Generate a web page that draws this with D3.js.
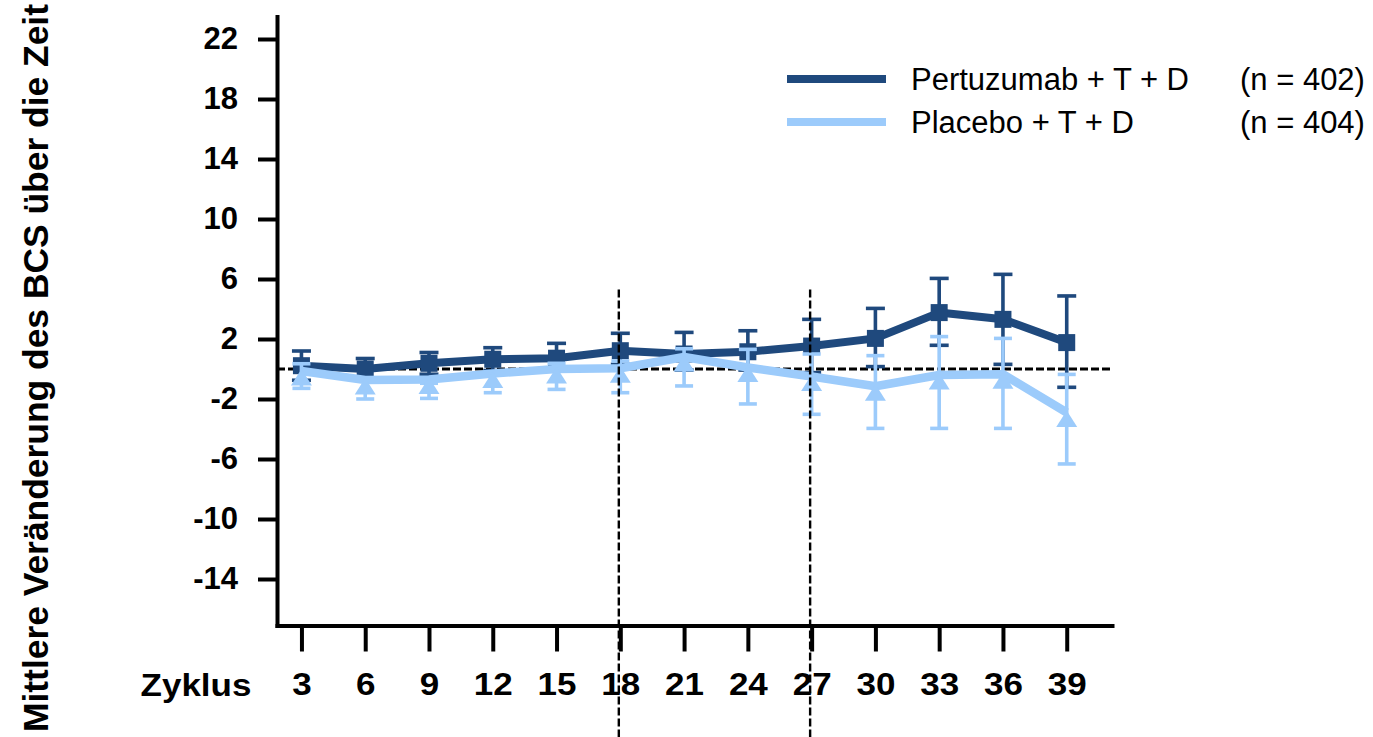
<!DOCTYPE html>
<html>
<head>
<meta charset="utf-8">
<script src="https://cdn.jsdelivr.net/npm/d3@7"></script>
<style>
  html, body { margin: 0; padding: 0; background: #fff; }
  svg { display: block; }
  text { font-family: "Liberation Sans", Arial, sans-serif; }
</style>
</head>
<body>
<div id="chart"></div>
<script>
// Treatment cycles on the x axis
const cycles = [3, 6, 9, 12, 15, 18, 21, 24, 27, 30, 33, 36, 39];

// Pertuzumab + T + D: mean change with lower / upper error limits
const pertuzumabMean  = [0.22, 0.0, 0.38, 0.65, 0.72, 1.22, 1.0, 1.15, 1.53, 2.04, 3.76, 3.31, 1.76];
const pertuzumabUpper = [1.2, 0.7, 1.1, 1.42, 1.71, 2.38, 2.44, 2.55, 3.31, 4.04, 6.04, 6.31, 4.87];
const pertuzumabLower = [-0.75, -0.75, -0.35, -0.1, -0.11, 0.31, -0.07, -0.07, -0.24, 0.16, 1.58, 0.31, -1.22];

// Placebo + T + D: mean change with lower / upper error limits
const placeboMean  = [-0.13, -0.73, -0.7, -0.3, 0.0, 0.05, 0.8, 0.1, -0.5, -1.15, -0.4, -0.35, -2.9];
const placeboUpper = [0.35, -0.65, -0.95, -0.3, 0.38, 0.53, 1.35, 1.31, 1.0, 0.89, 2.16, 2.04, -0.36];
const placeboLower = [-1.29, -2.0, -1.96, -1.58, -1.36, -1.58, -1.13, -2.33, -3.02, -3.96, -3.96, -3.96, -6.33];

// Axis ticks and labels
const yTicks = [22, 18, 14, 10, 6, 2, -2, -6, -10, -14];
const yDomain = [-17.1, 23.5];
const xDomain = [1.85, 41.13];
const phaseMarkers = [18, 27];
const phaseMarkerTop = 5.3;

const seriesNames = ["Pertuzumab + T + D", "Placebo + T + D"];
const seriesCounts = ["(n = 402)", "(n = 404)"];
const yTitle = "Mittlere Veränderung des BCS über die Zeit";
const xTitle = "Zyklus";

const DARK = "#1F497D";
const LIGHT = "#9CCBFB";
const FONT = "'Liberation Sans', Arial, sans-serif";

const W = 1373, H = 737;
const svg = d3.select("#chart").append("svg").attr("width", W).attr("height", H);

const x = d3.scaleLinear().domain(xDomain).range([277, 1112]);
const y = d3.scaleLinear().domain(yDomain).range([625.5, 16.5]);
const axisY = y(yDomain[0]);

// zero reference line
svg.append("line")
  .attr("x1", x(xDomain[0])).attr("x2", x(xDomain[1]))
  .attr("y1", y(0)).attr("y2", y(0))
  .attr("stroke", "#000").attr("stroke-width", 3)
  .attr("stroke-dasharray", "8,3");

// y axis
const gy = svg.append("g")
  .attr("transform", `translate(${x(xDomain[0])},0)`)
  .call(d3.axisLeft(y).tickValues(yTicks).tickFormat(d => String(d))
    .tickSize(19).tickSizeOuter(0).tickPadding(20));
gy.select(".domain").attr("stroke", "#000").attr("stroke-width", 4).attr("stroke-linecap", "square");
gy.selectAll(".tick line").attr("stroke", "#000").attr("stroke-width", 4);
gy.selectAll(".tick text")
  .attr("fill", "#000").attr("font-size", 31).attr("font-weight", "bold")
  .attr("font-family", FONT);

// x axis
const gx = svg.append("g")
  .attr("transform", `translate(0,${axisY})`)
  .call(d3.axisBottom(x).tickValues(cycles).tickFormat(d => String(d))
    .tickSize(26).tickSizeOuter(0));
gx.select(".domain").attr("stroke", "#000").attr("stroke-width", 4).attr("stroke-linecap", "square");
gx.selectAll(".tick line").attr("stroke", "#000").attr("stroke-width", 4);
gx.selectAll(".tick text")
  .attr("y", 70).attr("dy", 0)
  .attr("transform", "scale(1.13,1)")
  .attr("fill", "#000").attr("font-size", 31).attr("font-weight", "bold")
  .attr("font-family", FONT);

svg.append("text")
  .attr("transform", `translate(196,${axisY + 70}) scale(1.13,1)`)
  .attr("text-anchor", "middle")
  .attr("font-size", 31).attr("font-weight", "bold")
  .text(xTitle);

// y axis title
svg.append("text")
  .attr("transform", `translate(48,${368}) rotate(-90)`)
  .attr("text-anchor", "middle")
  .attr("font-size", 35).attr("font-weight", "bold")
  .attr("textLength", 728).attr("lengthAdjust", "spacingAndGlyphs")
  .text(yTitle);

function rows(mean, lo, hi) {
  return cycles.map((c, i) => ({ c, m: mean[i], lo: lo[i], hi: hi[i] }));
}
const dark = rows(pertuzumabMean, pertuzumabLower, pertuzumabUpper);
const light = rows(placeboMean, placeboLower, placeboUpper);

function errorBars(data, color, capW, sw) {
  const g = svg.append("g").attr("stroke", color).attr("stroke-width", sw);
  g.selectAll(".bar").data(data).join("line")
    .attr("x1", d => x(d.c)).attr("x2", d => x(d.c))
    .attr("y1", d => y(d.hi)).attr("y2", d => y(d.lo));
  g.selectAll(".capH").data(data).join("line")
    .attr("x1", d => x(d.c) - capW / 2).attr("x2", d => x(d.c) + capW / 2)
    .attr("y1", d => y(d.hi)).attr("y2", d => y(d.hi));
  g.selectAll(".capL").data(data).join("line")
    .attr("x1", d => x(d.c) - capW / 2).attr("x2", d => x(d.c) + capW / 2)
    .attr("y1", d => y(d.lo)).attr("y2", d => y(d.lo));
}

const line = d3.line().x(d => x(d.c)).y(d => y(d.m));

// Pertuzumab series
errorBars(dark, DARK, 19, 3.6);
svg.append("path").datum(dark)
  .attr("d", line).attr("fill", "none")
  .attr("stroke", DARK).attr("stroke-width", 8).attr("stroke-linejoin", "round");
svg.append("g").selectAll("rect").data(dark).join("rect")
  .attr("x", d => x(d.c) - 8.5).attr("y", d => y(d.m) - 8.5)
  .attr("width", 17).attr("height", 17).attr("fill", DARK);

// Placebo series
errorBars(light, LIGHT, 18, 3.6);
svg.append("path").datum(light)
  .attr("d", line).attr("fill", "none")
  .attr("stroke", LIGHT).attr("stroke-width", 8.5).attr("stroke-linejoin", "round");
svg.append("g").selectAll("path").data(light).join("path")
  .attr("transform", d => `translate(${x(d.c)},${y(d.m)})`)
  .attr("d", "M0,-2L10.5,14.5L-10.5,14.5Z")
  .attr("fill", LIGHT);

// phase markers (vertical dashed lines)
svg.append("g").selectAll("line").data(phaseMarkers).join("line")
  .attr("x1", d => x(d) - 1.5).attr("x2", d => x(d) - 1.5)
  .attr("y1", y(phaseMarkerTop)).attr("y2", H)
  .attr("stroke", "#000").attr("stroke-width", 2.4)
  .attr("stroke-dasharray", "8,3");

// legend
const legend = svg.append("g");
[DARK, LIGHT].forEach((col, i) => {
  const cy = 79 + i * 43;
  legend.append("line")
    .attr("x1", 787).attr("x2", 886).attr("y1", cy).attr("y2", cy)
    .attr("stroke", col).attr("stroke-width", 8);
  legend.append("text")
    .attr("x", 911).attr("y", cy + 11)
    .attr("font-size", 31).attr("fill", "#000")
    .text(seriesNames[i]);
  legend.append("text")
    .attr("x", 1240).attr("y", cy + 11)
    .attr("font-size", 31).attr("fill", "#000")
    .text(seriesCounts[i]);
});
</script>
</body>
</html>
